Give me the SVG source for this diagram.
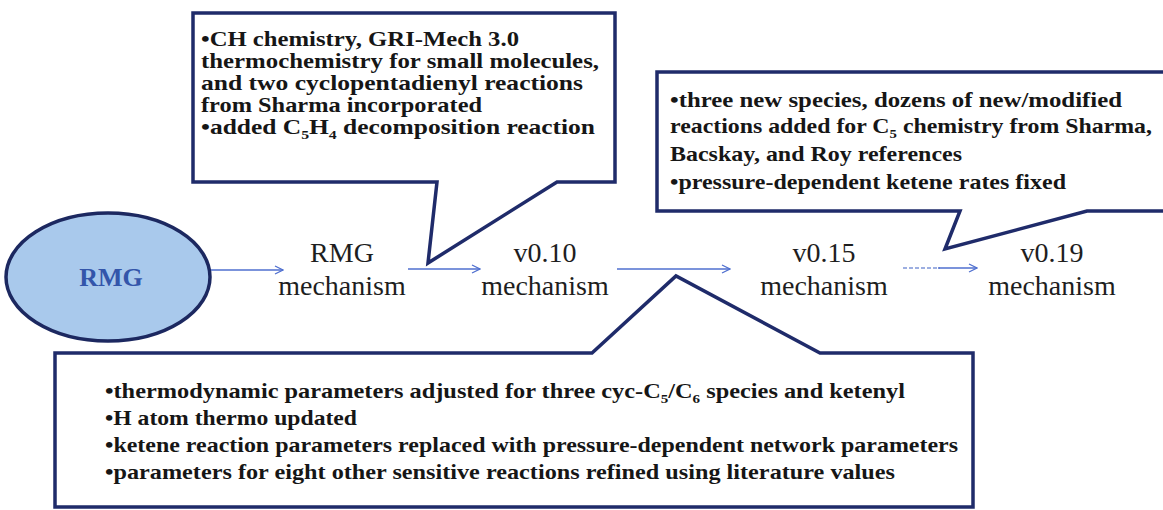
<svg xmlns="http://www.w3.org/2000/svg" width="1163" height="510" viewBox="0 0 1163 510">
  <defs>
    <marker id="arrowhead" markerWidth="10" markerHeight="10" refX="9" refY="5" orient="auto" markerUnits="userSpaceOnUse">
      <path d="M1,1 L9,5 L1,9" fill="none" stroke="#4f6fcf" stroke-width="1.3"/>
    </marker>
  </defs>
  <style>
    .flow { stroke: #4f6fcf; stroke-width: 1.6; fill: none; marker-end: url(#arrowhead); }
    .callout { fill: #ffffff; stroke: #1f2b6a; stroke-width: 3.5; stroke-linejoin: miter; }
    .label { font-size: 28px; fill: #1e1e1e; text-anchor: middle; }
    .note { font-size: 21px; font-weight: bold; fill: #161616; }
    .sub { font-size: 13px; }
  </style>

  <rect width="1163" height="510" fill="#ffffff"/>

  <!-- source program -->
  <g id="rmg" font-family="Liberation Serif, Times New Roman, serif">
    <ellipse cx="108" cy="277" rx="102" ry="64" fill="#a9c9ec" stroke="#1c2860" stroke-width="3.5"/>
    <text x="111" y="286" font-size="26" font-weight="bold" fill="#3355aa" text-anchor="middle">RMG</text>
  </g>

  <!-- mechanism versions -->
  <g id="rmg-mechanism" font-family="Liberation Serif, Times New Roman, serif">
    <text class="label" x="342" y="262">RMG</text>
    <text class="label" x="342" y="295">mechanism</text>
  </g>
  <g id="v010" font-family="Liberation Serif, Times New Roman, serif">
    <text class="label" x="545" y="262">v0.10</text>
    <text class="label" x="545" y="295">mechanism</text>
  </g>
  <g id="v015" font-family="Liberation Serif, Times New Roman, serif">
    <text class="label" x="824" y="262">v0.15</text>
    <text class="label" x="824" y="295">mechanism</text>
  </g>
  <g id="v019" font-family="Liberation Serif, Times New Roman, serif">
    <text class="label" x="1052" y="262">v0.19</text>
    <text class="label" x="1052" y="295">mechanism</text>
  </g>

  <!-- connectors -->
  <g id="connectors">
    <line class="flow" x1="211" y1="270" x2="283" y2="270"/>
    <line class="flow" x1="408" y1="269" x2="480" y2="269"/>
    <line class="flow" x1="617" y1="269" x2="730" y2="269"/>
    <line x1="903" y1="268" x2="940" y2="268" stroke="#7d95d8" stroke-width="1.4" stroke-dasharray="4 2"/>
    <line class="flow" x1="938" y1="268" x2="977" y2="268"/>
  </g>

  <!-- note: RMG mechanism to v0.10 -->
  <g id="note-v010" font-family="Liberation Serif, Times New Roman, serif">
    <path class="callout" d="M193,13 L615,13 L615,182 L557,182 L428,263 L437,182 L193,182 Z"/>
    <text class="note" x="201" y="46" textLength="318" lengthAdjust="spacingAndGlyphs">•CH chemistry, GRI-Mech 3.0</text>
    <text class="note" x="201" y="68" textLength="398" lengthAdjust="spacingAndGlyphs">thermochemistry for small molecules,</text>
    <text class="note" x="201" y="90" textLength="382" lengthAdjust="spacingAndGlyphs">and two cyclopentadienyl reactions</text>
    <text class="note" x="201" y="112" textLength="281" lengthAdjust="spacingAndGlyphs">from Sharma incorporated</text>
    <text class="note" x="201" y="134" textLength="394" lengthAdjust="spacingAndGlyphs">•added C<tspan class="sub" dy="5">5</tspan><tspan dy="-5">H</tspan><tspan class="sub" dy="5">4</tspan><tspan dy="-5"> decomposition reaction</tspan></text>
  </g>

  <!-- note: v0.15 to v0.19 -->
  <g id="note-v019" font-family="Liberation Serif, Times New Roman, serif">
    <path class="callout" d="M657,72 L1170,72 L1170,211 L1087,211 L945,249 L960,211 L657,211 Z"/>
    <text class="note" x="670" y="107" textLength="452" lengthAdjust="spacingAndGlyphs">•three new species, dozens of new/modified</text>
    <text class="note" x="670" y="133" textLength="482" lengthAdjust="spacingAndGlyphs">reactions added for C<tspan class="sub" dy="5">5</tspan><tspan dy="-5"> chemistry from Sharma,</tspan></text>
    <text class="note" x="670" y="161" textLength="292" lengthAdjust="spacingAndGlyphs">Bacskay, and Roy references</text>
    <text class="note" x="670" y="189" textLength="396" lengthAdjust="spacingAndGlyphs">•pressure-dependent ketene rates fixed</text>
  </g>

  <!-- note: v0.10 to v0.15 -->
  <g id="note-v015" font-family="Liberation Serif, Times New Roman, serif">
    <path class="callout" d="M55,353 L592,353 L676,276 L820,353 L973,353 L973,507 L55,507 Z"/>
    <text class="note" x="105" y="398" textLength="800" lengthAdjust="spacingAndGlyphs">•thermodynamic parameters adjusted for three cyc-C<tspan class="sub" dy="5">5</tspan><tspan dy="-5">/C</tspan><tspan class="sub" dy="5">6</tspan><tspan dy="-5">  species and ketenyl</tspan></text>
    <text class="note" x="105" y="425" textLength="252" lengthAdjust="spacingAndGlyphs">•H atom thermo updated</text>
    <text class="note" x="105" y="452" textLength="853" lengthAdjust="spacingAndGlyphs">•ketene reaction parameters replaced with pressure-dependent network parameters</text>
    <text class="note" x="105" y="479" textLength="790" lengthAdjust="spacingAndGlyphs">•parameters for eight other sensitive reactions refined using literature values</text>
  </g>
</svg>
